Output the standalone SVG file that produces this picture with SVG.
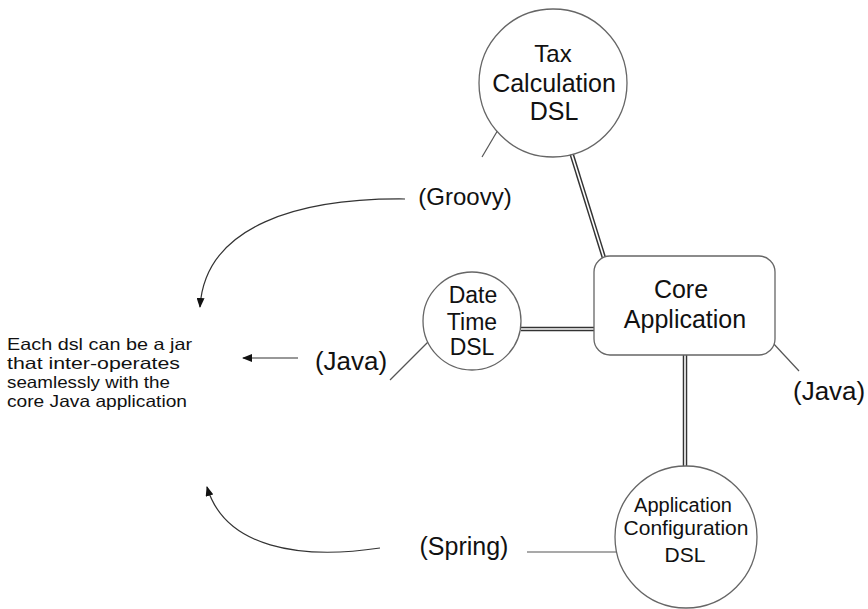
<svg xmlns="http://www.w3.org/2000/svg" width="868" height="609" viewBox="0 0 868 609">
<defs>
<style>
.bg{fill:#fff}
.node{fill:#fff;stroke:#666;stroke-width:1.3}
.t{font-family:"Liberation Sans",Arial,sans-serif;fill:#111;text-anchor:middle}
.tl{font-family:"Liberation Sans",Arial,sans-serif;fill:#111}
.note{font-family:"Liberation Sans",Arial,sans-serif;fill:#111;font-size:16.5px}
.thin{fill:none;stroke:#555;stroke-width:1.2}
.arr{fill:none;stroke:#333;stroke-width:1.2;marker-end:url(#ah)}
.dbl{fill:none;stroke:#333;stroke-width:4.5}
.dbli{fill:none;stroke:#fff;stroke-width:1.6}
</style>
<marker id="ah" markerUnits="userSpaceOnUse" markerWidth="10" markerHeight="8" refX="9" refY="4" orient="auto">
<path d="M0,0 L10,4 L0,8 z" fill="#111"/>
</marker>
</defs>
<rect class="bg" x="0" y="0" width="868" height="609"/>
<g id="connectors">
<line class="dbl" x1="571" y1="152" x2="604" y2="258"/>
<line class="dbli" x1="571" y1="152" x2="604" y2="258"/>
<line class="dbl" x1="521" y1="329" x2="595" y2="329"/>
<line class="dbli" x1="521" y1="329" x2="595" y2="329"/>
<line class="dbl" x1="685" y1="354" x2="685" y2="467"/>
<line class="dbli" x1="685" y1="354" x2="685" y2="467"/>
<line class="thin" x1="505" y1="118" x2="482" y2="157"/>
<line class="thin" x1="432" y1="338" x2="390" y2="380"/>
<line class="thin" x1="527" y1="552" x2="627" y2="552"/>
<line class="thin" x1="772" y1="342" x2="799" y2="371"/>
<path class="arr" d="M405,199 C300,198 205,225 200,307"/>
<line class="arr" x1="298" y1="358" x2="243" y2="358"/>
<path class="arr" d="M380,548 C300,560 225,548 207,487"/>
</g>
<g id="tax">
<circle class="node" cx="553" cy="83" r="74"/>
<text class="t" x="553" y="62" font-size="24">Tax</text>
<text class="t" x="554" y="92" font-size="25">Calculation</text>
<text class="t" x="554" y="120" font-size="25">DSL</text>
</g>
<g id="core">
<rect class="node" x="594" y="256" width="181" height="99" rx="16"/>
<text class="t" x="681" y="298" font-size="25">Core</text>
<text class="t" x="685" y="328" font-size="25">Application</text>
</g>
<g id="datetime">
<circle class="node" cx="472" cy="321" r="49"/>
<text class="t" x="473" y="303" font-size="23">Date</text>
<text class="t" x="472" y="330" font-size="23">Time</text>
<text class="t" x="472" y="355" font-size="23">DSL</text>
</g>
<g id="appconfig">
<circle class="node" cx="686" cy="537" r="71"/>
<text class="t" x="683" y="512" font-size="20">Application</text>
<text class="t" x="686" y="535" font-size="21">Configuration</text>
<text class="t" x="685" y="562" font-size="21">DSL</text>
</g>
<g id="note">
<text class="note" x="7" y="350" textLength="185" lengthAdjust="spacingAndGlyphs">Each dsl can be a jar</text>
<text class="note" x="7" y="369" textLength="173" lengthAdjust="spacingAndGlyphs">that inter-operates</text>
<text class="note" x="7" y="388" textLength="163" lengthAdjust="spacingAndGlyphs">seamlessly with the</text>
<text class="note" x="7" y="407" textLength="180" lengthAdjust="spacingAndGlyphs">core Java application</text>
</g>
<g id="labels">
<text class="t" x="465" y="205" font-size="24">(Groovy)</text>
<text class="t" x="351" y="370" font-size="26">(Java)</text>
<text class="t" x="464" y="555" font-size="25">(Spring)</text>
<text class="tl" x="793" y="400" font-size="26">(Java)</text>
</g>
</svg>
